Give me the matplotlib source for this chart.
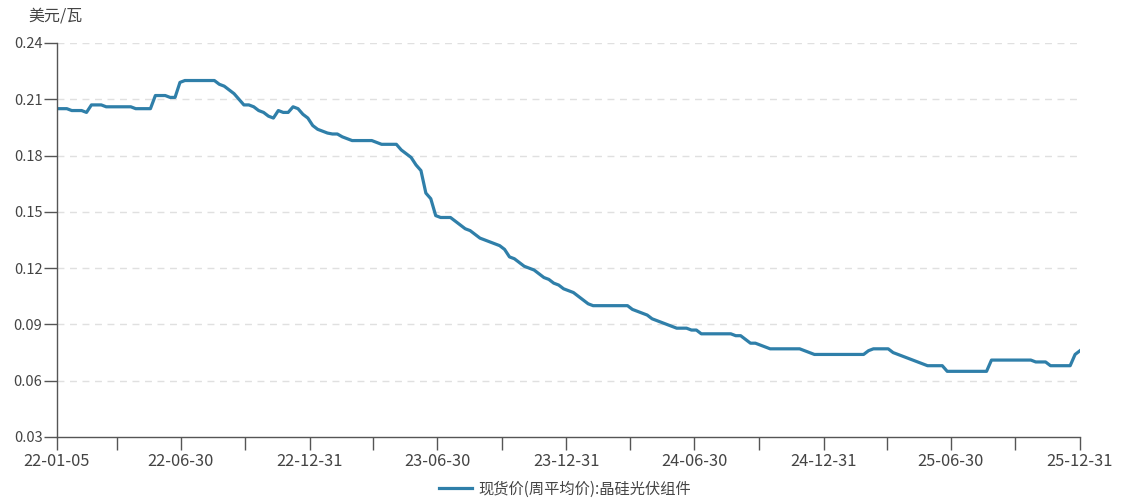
import numpy as np
import pandas as pd
import matplotlib
matplotlib.use("Agg")
import matplotlib.pyplot as plt
import matplotlib.dates as mdates

plt.rcParams['font.family'] = ['Noto Sans CJK SC', 'DejaVu Sans']

# weekly spot price (weekly average), USD/W, crystalline silicon PV modules
start_date = "2022-01-05"
prices = [
    0.205, 0.205, 0.205, 0.204, 0.204, 0.204, 0.203, 0.207, 0.207, 0.207, 0.206, 0.206, 0.206,
    0.206, 0.206, 0.206, 0.205, 0.205, 0.205, 0.205, 0.212, 0.212, 0.212, 0.211, 0.211, 0.219,
    0.220, 0.220, 0.220, 0.220, 0.220, 0.220, 0.220, 0.218, 0.217, 0.215, 0.213, 0.210, 0.207,
    0.207, 0.206, 0.204, 0.203, 0.201, 0.200, 0.204, 0.203, 0.203, 0.206, 0.205, 0.202, 0.200,
    0.196, 0.194, 0.193, 0.192, 0.1915, 0.1915, 0.190, 0.189, 0.188, 0.188, 0.188, 0.188, 0.188,
    0.187, 0.186, 0.186, 0.186, 0.186, 0.183, 0.181, 0.179, 0.175, 0.172, 0.160, 0.157, 0.148,
    0.147, 0.147, 0.147, 0.145, 0.143, 0.141, 0.140, 0.138, 0.136, 0.135, 0.134, 0.133, 0.132,
    0.130, 0.126, 0.125, 0.123, 0.121, 0.120, 0.119, 0.117, 0.115, 0.114, 0.112, 0.111, 0.109,
    0.108, 0.107, 0.105, 0.103, 0.101, 0.100, 0.100, 0.100, 0.100, 0.100, 0.100, 0.100, 0.100,
    0.098, 0.097, 0.096, 0.095, 0.093, 0.092, 0.091, 0.090, 0.089, 0.088, 0.088, 0.088, 0.087,
    0.087, 0.085, 0.085, 0.085, 0.085, 0.085, 0.085, 0.085, 0.084, 0.084, 0.082, 0.080, 0.080,
    0.079, 0.078, 0.077, 0.077, 0.077, 0.077, 0.077, 0.077, 0.077, 0.076, 0.075, 0.074, 0.074,
    0.074, 0.074, 0.074, 0.074, 0.074, 0.074, 0.074, 0.074, 0.074, 0.076, 0.077, 0.077, 0.077,
    0.077, 0.075, 0.074, 0.073, 0.072, 0.071, 0.070, 0.069, 0.068, 0.068, 0.068, 0.068, 0.065,
    0.065, 0.065, 0.065, 0.065, 0.065, 0.065, 0.065, 0.065, 0.071, 0.071, 0.071, 0.071, 0.071,
    0.071, 0.071, 0.071, 0.071, 0.070, 0.070, 0.070, 0.068, 0.068, 0.068, 0.068, 0.068, 0.074,
    0.076,
]
dates = pd.date_range(start_date, periods=len(prices), freq="7D")

x_labels = ["22-01-05", "22-06-30", "22-12-31", "23-06-30", "23-12-31",
            "24-06-30", "24-12-31", "25-06-30", "25-12-31"]
x_major = pd.to_datetime(["2022-01-05", "2022-06-30", "2022-12-31", "2023-06-30", "2023-12-31",
                          "2024-06-30", "2024-12-31", "2025-06-30", "2025-12-31"])
x_minor = pd.to_datetime(["2022-03-31", "2022-09-30", "2023-03-31", "2023-09-30",
                          "2024-03-31", "2024-09-30", "2025-03-31", "2025-09-30"])
y_ticks = [0.03, 0.06, 0.09, 0.12, 0.15, 0.18, 0.21, 0.24]

series_name = "现货价(周平均价):晶硅光伏组件"
unit = "美元/瓦"
line_color = "#2f7fa9"
text_color = "#444444"
axis_color = "#555555"

fig = plt.figure(figsize=(11.21, 5.01), dpi=100)
ax = fig.add_axes([57 / 1121, 1 - 437 / 501, 1023 / 1121, 394 / 501])

ax.plot(dates, prices, color=line_color, linewidth=2.3, label=series_name,
        solid_joinstyle="round")

ax.set_xlim(x_major[0], x_major[-1])
ax.set_ylim(0.03, 0.24)

ax.set_yticks(y_ticks)
ax.set_yticklabels(["%.2f" % v for v in y_ticks])
ax.set_xticks(x_major)
ax.set_xticklabels(x_labels)
ax.set_xticks(x_minor, minor=True)

for v in y_ticks[1:]:
    ax.axhline(v, color="#e0e0e0", linewidth=1.0, linestyle=(0, (5, 4)), zorder=0)

for side in ["top", "right"]:
    ax.spines[side].set_visible(False)
for side in ["left", "bottom"]:
    ax.spines[side].set_color(axis_color)
    ax.spines[side].set_linewidth(1.0)

ax.tick_params(axis="y", length=9.5, width=1, color=axis_color, pad=1,
               labelsize=10.5, labelcolor=text_color)
ax.tick_params(axis="x", which="both", length=9, width=1, color=axis_color, pad=2.5,
               labelsize=11.8, labelcolor=text_color)

fig.text(28 / 1121, 1 - 16 / 501, unit, fontsize=11.5, color=text_color,
         ha="left", va="center")

fig.legend(loc="center", bbox_to_anchor=(565 / 1121, 12 / 501), frameon=False,
           fontsize=11, handlelength=2.2, handletextpad=0.4, labelcolor=text_color)

fig.savefig("out.png", dpi=100)
